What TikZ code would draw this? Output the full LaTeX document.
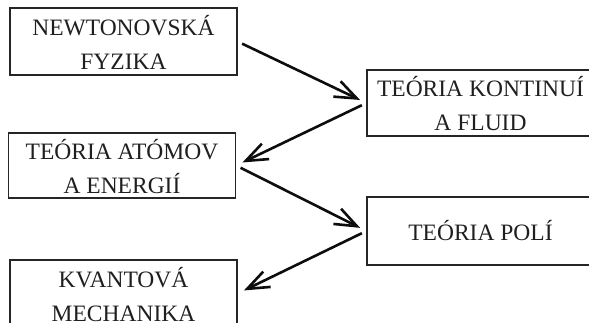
\documentclass[tikz,border=0pt]{standalone}
\usepackage{fontspec}
\setmainfont{Liberation Serif}
\usetikzlibrary{arrows.meta}
\begin{document}
\begin{tikzpicture}[x=1pt,y=-1pt,
  box/.style={draw=black!85, line width=1.2pt, minimum width=227pt, inner sep=0pt,
    align=center, text=black!88, font=\fontsize{23.5}{34}\selectfont},
  twoline/.style={text height=56pt},
  link/.style={line width=2.6pt, draw=black!95, -{Straight Barb[length=22pt,width=17pt,line width=2.6pt]},
    shorten <=5pt, shorten >=7pt}]
\useasboundingbox (0,0) rectangle (589,323);
\node[box, twoline, minimum height=67pt] (b1) at (123.5,41.5) {NEWTONOVSKÁ\\FYZIKA};
\node[box, twoline, minimum height=66pt] (b2) at (480.5,103) {TEÓRIA KONTINUÍ\\A FLUID};
\node[box, twoline, minimum height=65pt] (b3) at (122,165.5) {TEÓRIA ATÓMOV\\A ENERGIÍ};
\node[box, minimum height=68pt] (b4) at (480.5,231) {TEÓRIA POLÍ};
\node[box, twoline, minimum height=67pt] (b5) at (123.5,293.5) {KVANTOVÁ\\MECHANIKA};
\draw[link] (b1.east) -- (b2.west);
\draw[link] (b2.west) -- (b3.east);
\draw[link] (b3.east) -- (b4.west);
\draw[link] (b4.west) -- (b5.east);
\end{tikzpicture}
\end{document}
